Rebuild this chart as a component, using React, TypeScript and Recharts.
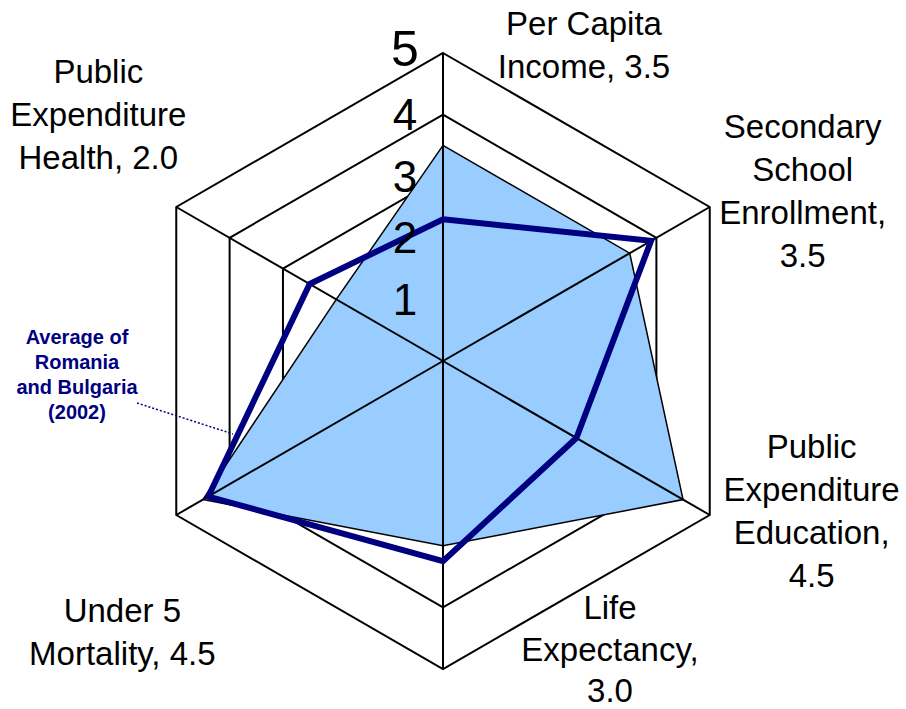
import React from "react";
import {
  RadarChart,
  Radar,
  PolarGrid,
  PolarAngleAxis,
  PolarRadiusAxis,
} from "recharts";

const categories = [
  "Per Capita Income",
  "Secondary School Enrollment",
  "Public Expenditure Education",
  "Life Expectancy",
  "Under 5 Mortality",
  "Public Expenditure Health",
];

// shaded country profile
const countryValues = [3.5, 3.5, 4.5, 3.0, 4.5, 2.0];
// Average of Romania and Bulgaria (2002)
const averageValues = [2.3, 3.9, 2.5, 3.25, 4.4, 2.5];

const categoryLabels = [
  ["Per Capita", "Income, 3.5"],
  ["Secondary", "School", "Enrollment,", "3.5"],
  ["Public", "Expenditure", "Education,", "4.5"],
  ["Life", "Expectancy,", "3.0"],
  ["Under 5", "Mortality, 4.5"],
  ["Public", "Expenditure", "Health, 2.0"],
];

const radiusTicks = [1, 2, 3, 4, 5];
const scaleMax = 5;

const annotationLines = ["Average of", "Romania", "and Bulgaria", "(2002)"];

const data = categories.map((name, i) => ({
  name,
  country: countryValues[i],
  average: averageValues[i],
  max: scaleMax,
}));

// label placement relative to the axis tick point (dx = centre, dy = first baseline, gap = line step)
const labelOffsets = [
  { dx: 141, dy: -10, gap: 43 },
  { dx: 86, dy: -65, gap: 43 },
  { dx: 95, dy: -61, gap: 43 },
  { dx: 167, dy: -58, gap: 41.5 },
  { dx: -47, dy: 103, gap: 43 },
  { dx: -71, dy: -120, gap: 43 },
];

const FONT = "'Liberation Sans', Arial, sans-serif";

function AngleTick(props: any) {
  const { x, y, index } = props;
  const lines = categoryLabels[index] || [];
  const off = labelOffsets[index];
  return (
    <text
      x={x + off.dx}
      y={y + off.dy}
      textAnchor="middle"
      fontFamily={FONT}
      fontSize={33}
      fill="#000"
    >
      {lines.map((l, i) => (
        <tspan key={i} x={x + off.dx} dy={i === 0 ? 0 : off.gap}>
          {l}
        </tspan>
      ))}
    </text>
  );
}

function RadiusTick(props: any) {
  const { x, y, payload } = props;
  const big = payload.value === 5;
  return (
    <text
      x={x - 38}
      y={y + (big ? -4 : 0)}
      textAnchor="middle"
      dominantBaseline="central"
      fontFamily={FONT}
      fontSize={big ? 50 : 44}
      fill="#000"
    >
      {payload.value}
    </text>
  );
}

function Spokes(props: any) {
  const { points } = props;
  if (!points) return null;
  return (
    <g>
      {points.map((p: any, i: number) => (
        <line
          key={i}
          x1={p.cx}
          y1={p.cy}
          x2={p.x}
          y2={p.y}
          stroke="#000"
          strokeWidth={2}
        />
      ))}
    </g>
  );
}

export default function App() {
  return (
    <div
      style={{
        position: "absolute",
        left: 0,
        top: 0,
        width: 906,
        height: 709,
        background: "#fff",
      }}
    >
      <RadarChart
        width={906}
        height={709}
        data={data}
        cx={443}
        cy={361}
        outerRadius={308}
        margin={{ top: 0, right: 0, bottom: 0, left: 0 }}
      >
        <PolarGrid
          gridType="polygon"
          radialLines={false}
          stroke="#000"
          strokeWidth={2}
          strokeOpacity={1}
        />
        <PolarAngleAxis
          dataKey="name"
          tick={<AngleTick />}
          tickLine={false}
          axisLine={false}
        />
        <PolarRadiusAxis
          angle={90}
          domain={[0, scaleMax]}
          ticks={radiusTicks}
          tick={<RadiusTick />}
          axisLine={false}
          tickLine={false}
        />
        <Radar
          dataKey="country"
          fill="#99CCFF"
          fillOpacity={1}
          stroke="#000"
          strokeWidth={1.5}
          isAnimationActive={false}
        />
        <Radar
          dataKey="max"
          fill="none"
          stroke="none"
          shape={<Spokes />}
          isAnimationActive={false}
        />
        <Radar
          dataKey="average"
          fill="none"
          fillOpacity={0}
          stroke="#000080"
          strokeWidth={6}
          strokeLinejoin="miter"
          isAnimationActive={false}
        />
      </RadarChart>
      <svg
        width={906}
        height={709}
        style={{ position: "absolute", left: 0, top: 0, pointerEvents: "none" }}
      >
        <text
          x={77}
          y={344}
          textAnchor="middle"
          fontFamily={FONT}
          fontWeight="bold"
          fontSize={20}
          fill="#000080"
        >
          {annotationLines.map((l, i) => (
            <tspan key={i} x={77} dy={i === 0 ? 0 : 25}>
              {l}
            </tspan>
          ))}
        </text>
        <line
          x1={137}
          y1={403}
          x2={233}
          y2={434}
          stroke="#000080"
          strokeWidth={1.5}
          strokeDasharray="2 2"
        />
      </svg>
    </div>
  );
}
